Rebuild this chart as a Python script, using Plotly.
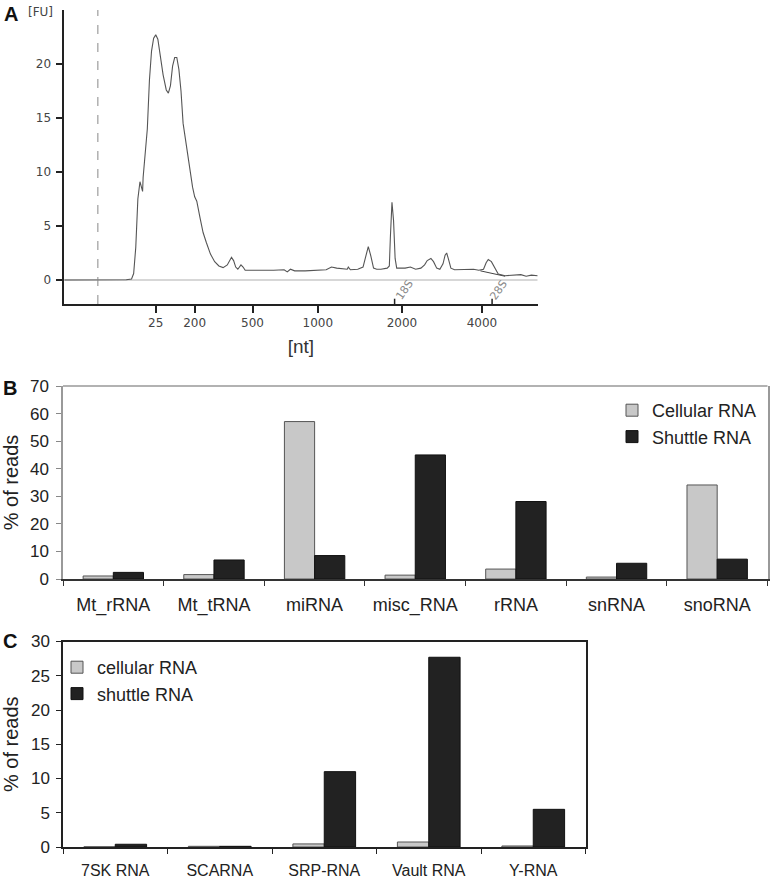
import plotly.graph_objects as go

# ---------------- Panel A: Bioanalyzer electropherogram ----------------
fu_time = [0, 11.8, 12.8, 13.2, 13.6, 14.0, 14.4, 14.7, 14.9, 15.0, 15.4, 15.8, 16.2, 16.6,
           17.0, 17.4, 17.8, 18.2, 18.8, 19.4, 19.8, 20.2, 20.6, 21.0, 21.4, 21.8, 22.2,
           22.6, 23.2, 23.8, 24.4, 24.8, 25.2, 25.8, 26.4, 27.0, 27.8, 28.6, 29.4, 30.2,
           31.0, 31.8, 32.2, 32.6, 33.0, 33.6, 34.0, 34.4, 35.8, 37.8, 39.8, 41.8, 42.4,
           43.0, 43.8, 45.8, 47.8, 49.8, 50.8, 51.8, 53.8, 54.0, 54.4, 55.8, 56.8, 57.3,
           57.8, 58.3, 58.8, 59.4, 60.2, 61.4, 61.8, 62.0, 62.3, 62.6, 62.9, 63.2, 64.8,
           65.8, 66.8, 67.8, 68.5, 69.0, 69.7, 70.2, 70.8, 71.4, 72.0, 72.4, 72.7, 73.0,
           73.5, 74.2, 75.8, 77.8, 78.8, 79.7, 80.2, 80.6, 81.2, 81.8, 82.5, 83.8, 85.8,
           86.8, 87.8, 88.8, 90.0]
fu_signal = [0, 0.02, 0.1, 0.6, 3.0, 7.5, 9.1, 8.6, 8.2, 9.5, 11.5, 14.0, 18.5, 21.2,
             22.4, 22.7, 22.3, 21.0, 19.0, 17.6, 17.3, 18.0, 19.8, 20.6, 20.6, 19.5, 17.5,
             14.5, 12.5, 10.5, 8.6, 7.7, 7.3, 5.8, 4.4, 3.5, 2.4, 1.7, 1.3, 1.15,
             1.4, 2.1, 1.8, 1.2, 1.0, 1.4, 1.2, 0.9, 0.9, 0.85, 0.9, 0.95, 0.75,
             1.0, 0.85, 0.85, 0.9, 0.95, 1.2, 1.1, 1.0, 1.2, 0.95, 1.0, 1.2, 2.3,
             3.1, 2.2, 1.1, 1.0, 1.0, 1.1, 1.3, 4.0, 7.2, 5.5, 2.0, 1.1, 1.1,
             1.2, 1.0, 1.1, 1.4, 1.8, 2.0, 1.7, 1.1, 1.0, 1.5, 2.3, 2.5, 2.0,
             1.1, 0.95, 1.0, 1.0, 0.9, 1.0, 1.6, 1.9, 1.7, 1.1, 0.55, 0.4, 0.45,
             0.5, 0.35, 0.45, 0.4]

# peak baseline under the last peak
peak_base_time = [79.1, 83.8]
peak_base_signal = [0.85, 0.35]

ladder_tick_pos = [17.4, 24.8, 35.8, 48.2, 64.2, 79.4]
ladder_tick_text = ["25", "200", "500", "1000", "2000", "4000"]
fu_ticks = [0, 5, 10, 15, 20]
lower_marker_pos = 6.4
rrna_marker_pos = [62.8, 81.33]
rrna_marker_text = ["18S", "28S"]
rrna_label_pos = [64.6, 82.5]

# ---------------- Panel B ----------------
b_categories = ["Mt_rRNA", "Mt_tRNA", "miRNA", "misc_RNA", "rRNA", "snRNA", "snoRNA"]
b_cellular = [1.1, 1.6, 57.1, 1.4, 3.6, 0.7, 34.1]
b_shuttle = [2.4, 6.9, 8.5, 45.0, 28.1, 5.7, 7.2]

# ---------------- Panel C ----------------
c_categories = ["7SK RNA", "SCARNA", "SRP-RNA", "Vault RNA", "Y-RNA"]
c_cellular = [0.03, 0.1, 0.45, 0.73, 0.15]
c_shuttle = [0.4, 0.1, 11.0, 27.7, 5.5]

W, H = 770, 880
def px(x):
    return x / W
def py(y):
    return 1 - y / H

LIGHT = "#c8c8c8"
DARK = "#222222"
ARIAL = "Liberation Sans, Arial, sans-serif"
DEJA = "DejaVu Sans, Verdana, sans-serif"

fig = go.Figure()

# Panel A traces
fig.add_trace(go.Scatter(x=[0, 90], y=[0, 0], mode="lines",
                         line=dict(color="#b0b0b0", width=1.2),
                         showlegend=False, hoverinfo="skip", xaxis="x", yaxis="y"))
fig.add_trace(go.Scatter(x=peak_base_time, y=peak_base_signal, mode="lines",
                         line=dict(color="#444", width=1),
                         showlegend=False, hoverinfo="skip", xaxis="x", yaxis="y"))
fig.add_trace(go.Scatter(x=fu_time, y=fu_signal, mode="lines",
                         line=dict(color="#555", width=1.1),
                         showlegend=False, xaxis="x", yaxis="y"))

# Panel B bars
fig.add_trace(go.Bar(x=b_categories, y=b_cellular, name="Cellular RNA",
                     marker=dict(color=LIGHT, line=dict(color="#555", width=1)),
                     xaxis="x2", yaxis="y2", legend="legend"))
fig.add_trace(go.Bar(x=b_categories, y=b_shuttle, name="Shuttle RNA",
                     marker=dict(color=DARK, line=dict(color="#111", width=1)),
                     xaxis="x2", yaxis="y2", legend="legend"))

# Panel C bars
fig.add_trace(go.Bar(x=c_categories, y=c_cellular, name="cellular RNA",
                     marker=dict(color=LIGHT, line=dict(color="#555", width=1)),
                     xaxis="x3", yaxis="y3", legend="legend2"))
fig.add_trace(go.Bar(x=c_categories, y=c_shuttle, name="shuttle RNA",
                     marker=dict(color=DARK, line=dict(color="#111", width=1)),
                     xaxis="x3", yaxis="y3", legend="legend2"))

shapes = []
# lower marker dashed line
shapes.append(dict(type="line", xref="x", yref="y domain", x0=lower_marker_pos, x1=lower_marker_pos,
                   y0=0, y1=1, line=dict(color="#888", width=1, dash="dash")))
for p in rrna_marker_pos:
    shapes.append(dict(type="line", xref="x", yref="y domain", x0=p, x1=p, y0=0, y1=0.018,
                       line=dict(color="#222", width=1.5)))
# top frame line of panel B (grey)
shapes.append(dict(type="line", xref="x2 domain", yref="y2 domain", x0=0, x1=1, y0=1, y1=1,
                   line=dict(color="#999", width=1.5)))

annotations = []
for p, t in zip(rrna_label_pos, rrna_marker_text):
    annotations.append(dict(x=p, y=-0.93, xref="x", yref="y", text=t, showarrow=False,
                            textangle=-55, font=dict(family=DEJA, size=11, color="#888")))
annotations += [
    dict(x=px(10.5), y=py(14), xref="paper", yref="paper", text="<b>A</b>", showarrow=False,
         font=dict(family=ARIAL, size=20, color="#111"), xanchor="center", yanchor="middle"),
    dict(x=px(10), y=py(388), xref="paper", yref="paper", text="<b>B</b>", showarrow=False,
         font=dict(family=ARIAL, size=20, color="#111"), xanchor="center", yanchor="middle"),
    dict(x=px(9.5), y=py(641), xref="paper", yref="paper", text="<b>C</b>", showarrow=False,
         font=dict(family=ARIAL, size=20, color="#111"), xanchor="center", yanchor="middle"),
    dict(x=px(40), y=py(12), xref="paper", yref="paper", text="[FU]", showarrow=False,
         font=dict(family=DEJA, size=12, color="#444"), xanchor="center", yanchor="middle"),
]

fig.update_layout(
    width=W, height=H,
    margin=dict(l=0, r=0, t=0, b=0),
    paper_bgcolor="white", plot_bgcolor="white",
    barmode="group", bargap=0.4, bargroupgap=0,
    shapes=shapes, annotations=annotations,
    xaxis=dict(domain=[px(64.2), px(537.7)], anchor="y", range=[0, 90],
               tickmode="array", tickvals=ladder_tick_pos, ticktext=ladder_tick_text,
               ticks="outside", ticklen=7, tickcolor="#222", tickwidth=1.5,
               showline=True, linecolor="#222", linewidth=1.5,
               showgrid=False, zeroline=False, automargin=False,
               tickfont=dict(family=DEJA, size=12, color="#444"),
               title=dict(text="[nt]", font=dict(family=ARIAL, size=19, color="#333"), standoff=11)),
    yaxis=dict(domain=[py(304), py(10)], anchor="x", range=[-2.22, 25],
               tickmode="array", tickvals=fu_ticks,
               ticks="outside", ticklen=6, tickcolor="#222", tickwidth=1.5,
               showline=True, linecolor="#222", linewidth=1.5,
               showgrid=False, zeroline=False, automargin=False, ticklabelstandoff=3,
               tickfont=dict(family=DEJA, size=12, color="#444")),
    xaxis2=dict(domain=[px(63), px(767.5)], anchor="y2",
                ticks="outside", tickson="boundaries", ticklen=5, tickcolor="#333",
                showline=True, linecolor="#333", linewidth=1.5,
                showgrid=False, zeroline=False, automargin=False, ticklabelstandoff=9,
                tickfont=dict(family=ARIAL, size=18, color="#222")),
    yaxis2=dict(domain=[py(579), py(386)], anchor="x2", range=[0, 70], dtick=10,
                ticks="outside", ticklen=5, tickcolor="#888",
                showline=True, linecolor="#999", linewidth=1.5, mirror=True,
                showgrid=False, zeroline=False, automargin=False, ticklabelstandoff=4,
                tickfont=dict(family=ARIAL, size=17, color="#222"),
                title=dict(text="% of reads", font=dict(family=ARIAL, size=20, color="#222"), standoff=12)),
    xaxis3=dict(domain=[px(63), px(585.5)], anchor="y3",
                ticks="outside", tickson="boundaries", ticklen=5, tickcolor="#222",
                showline=True, linecolor="#222", linewidth=1.5, mirror=True,
                showgrid=False, zeroline=False, automargin=False, ticklabelstandoff=8,
                tickfont=dict(family=ARIAL, size=16, color="#222")),
    yaxis3=dict(domain=[py(847), py(641.5)], anchor="x3", range=[0, 30], dtick=5,
                ticks="outside", ticklen=5, tickcolor="#222",
                showline=True, linecolor="#222", linewidth=1.5, mirror=True,
                showgrid=False, zeroline=False, automargin=False, ticklabelstandoff=3,
                tickfont=dict(family=ARIAL, size=17, color="#222"),
                title=dict(text="% of reads", font=dict(family=ARIAL, size=20, color="#222"), standoff=13)),
    legend=dict(x=px(612), y=py(392), xanchor="left", yanchor="top",
                font=dict(family=ARIAL, size=18, color="#222"), bgcolor="rgba(0,0,0,0)",
                traceorder="normal", itemwidth=30, tracegroupgap=0),
    legend2=dict(x=px(57), y=py(649), xanchor="left", yanchor="top",
                 font=dict(family=ARIAL, size=18, color="#222"), bgcolor="rgba(0,0,0,0)",
                 traceorder="normal", itemwidth=30, tracegroupgap=0),
)

fig.write_html("out.html", post_script="document.body.style.margin='0';",
               config={"displayModeBar": False})
